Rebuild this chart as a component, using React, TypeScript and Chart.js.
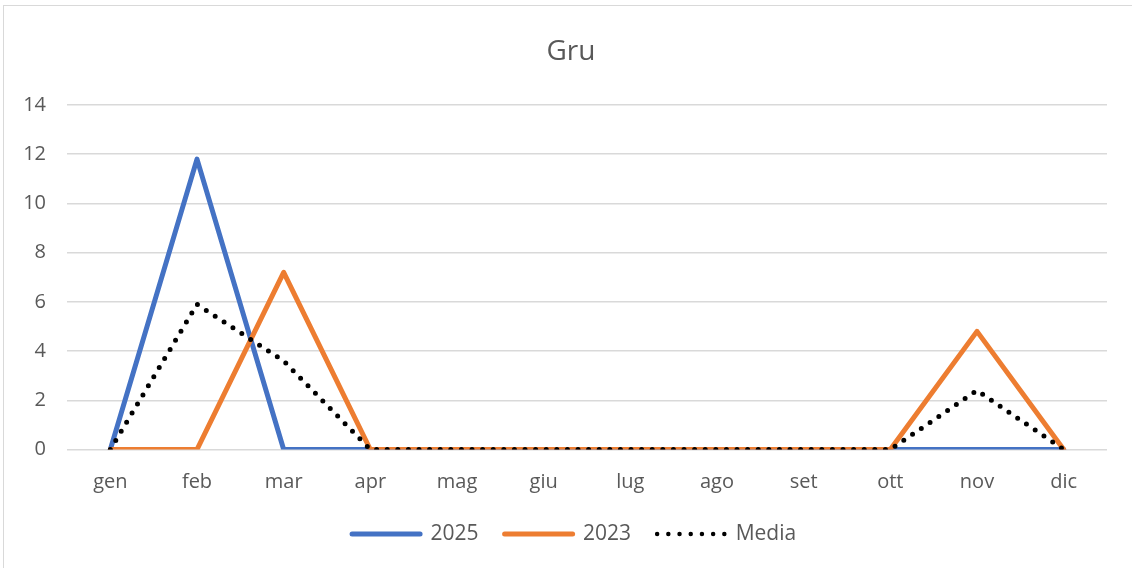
import React, { useEffect, useRef } from "react";
import { Chart, registerables } from "chart.js";

Chart.register(...registerables);

const months = ["gen", "feb", "mar", "apr", "mag", "giu", "lug", "ago", "set", "ott", "nov", "dic"];
const values2025 = [0, 11.8, 0, 0, 0, 0, 0, 0, 0, 0, 0, 0];
const values2023 = [0, 0, 7.2, 0, 0, 0, 0, 0, 0, 0, 4.8, 0];
const valuesMedia = [0, 5.9, 3.6, 0, 0, 0, 0, 0, 0, 0, 2.4, 0];
const yTicks = [0, 2, 4, 6, 8, 10, 12, 14];

const FONT = "'Open Sans', 'Noto Sans', sans-serif";
const TEXT = "#595959";

const shiftPlugin = {
  id: "shiftBlocks",
  afterLayout(chart: any) {
    if (chart.legend) {
      chart.legend.left += 10.6;
      chart.legend.right += 10.6;
    }
    if (chart.titleBlock) {
      chart.titleBlock.left += 15;
    }
  },
};

export default function App() {
  const ref = useRef<HTMLCanvasElement | null>(null);

  useEffect(() => {
    if (!ref.current) return;
    const chart = new Chart(ref.current, {
      type: "line",
      data: {
        labels: months,
        datasets: [
          {
            label: "2025",
            data: values2025,
            borderColor: "#4472C4",
            backgroundColor: "#4472C4",
            borderWidth: 5,
            borderCapStyle: "round",
            borderJoinStyle: "round",
            pointRadius: 0,
            tension: 0,
            order: 2,
          },
          {
            label: "2023",
            data: values2023,
            borderColor: "#ED7D31",
            backgroundColor: "#ED7D31",
            borderWidth: 5,
            borderCapStyle: "round",
            borderJoinStyle: "round",
            pointRadius: 0,
            tension: 0,
            order: 1,
          },
          {
            label: "Media",
            data: valuesMedia,
            borderColor: "#000000",
            backgroundColor: "#000000",
            borderWidth: 5,
            borderCapStyle: "round",
            borderDash: [0, 10.6],
            pointRadius: 0,
            tension: 0,
            order: 0,
          },
        ],
      },
      plugins: [shiftPlugin],
      options: {
        responsive: false,
        animation: false,
        devicePixelRatio: 1,
        layout: { padding: { left: 20, right: 25, top: 0, bottom: 13.5 } },
        plugins: {
          tooltip: { enabled: false },
          title: {
            display: true,
            text: "Gru",
            color: TEXT,
            font: { family: FONT, size: 28, weight: "normal", lineHeight: 1.2 },
            padding: { top: 35.2, bottom: 36.2 },
          },
          legend: {
            position: "bottom",
            labels: {
              usePointStyle: true,
              pointStyle: "line",
              pointStyleWidth: 68,
              padding: 26,
              color: TEXT,
              font: { family: FONT, size: 21 },
              sort: (a: any, b: any) => a.datasetIndex - b.datasetIndex,
              generateLabels: (chart: any) => {
                const items = Chart.defaults.plugins.legend.labels.generateLabels(chart);
                return items.map((it: any) => {
                  const ds = chart.data.datasets[it.datasetIndex];
                  const dotted = ds.label === "Media";
                  return {
                    ...it,
                    pointStyle: "line",
                    lineWidth: dotted ? 4.5 : 5,
                    lineCap: "round",
                    lineDash: dotted ? [0, 11.2] : [],
                    strokeStyle: ds.borderColor,
                    fillStyle: ds.borderColor,
                    fontColor: TEXT,
                  };
                });
              },
            },
          },
        },
        scales: {
          x: {
            offset: true,
            grid: { display: false, drawTicks: false },
            border: { display: false },
            ticks: {
              color: TEXT,
              font: { family: FONT, size: 20, lineHeight: 1.2 },
              padding: 21,
              maxRotation: 0,
            },
            afterFit: (scale: any) => {
              scale.height = 48;
            },
          },
          y: {
            min: 0,
            max: 14,
            grid: { color: "#d9d9d9", lineWidth: 1.5, drawTicks: false },
            border: { display: false },
            afterBuildTicks: (scale: any) => {
              scale.ticks = yTicks.map((v) => ({ value: v }));
            },
            ticks: {
              color: TEXT,
              font: { family: FONT, size: 20 },
              padding: 21,
            },
            afterFit: (scale: any) => {
              scale.width = 47;
            },
          },
        },
      },
    });
    return () => chart.destroy();
  }, []);

  return (
    <div
      style={{
        position: "fixed",
        left: 0,
        top: 0,
        width: 1132,
        height: 568,
        overflow: "hidden",
        background: "#ffffff",
      }}
    >
      <div
        style={{
          position: "absolute",
          left: 3,
          top: 5,
          width: 1300,
          height: 800,
          borderLeft: "1.5px solid #d9d9d9",
          borderTop: "1.5px solid #d9d9d9",
        }}
      />
      <canvas
        ref={ref}
        width={1132}
        height={568}
        style={{ position: "absolute", left: 0, top: 0, width: 1132, height: 568 }}
      />
    </div>
  );
}
